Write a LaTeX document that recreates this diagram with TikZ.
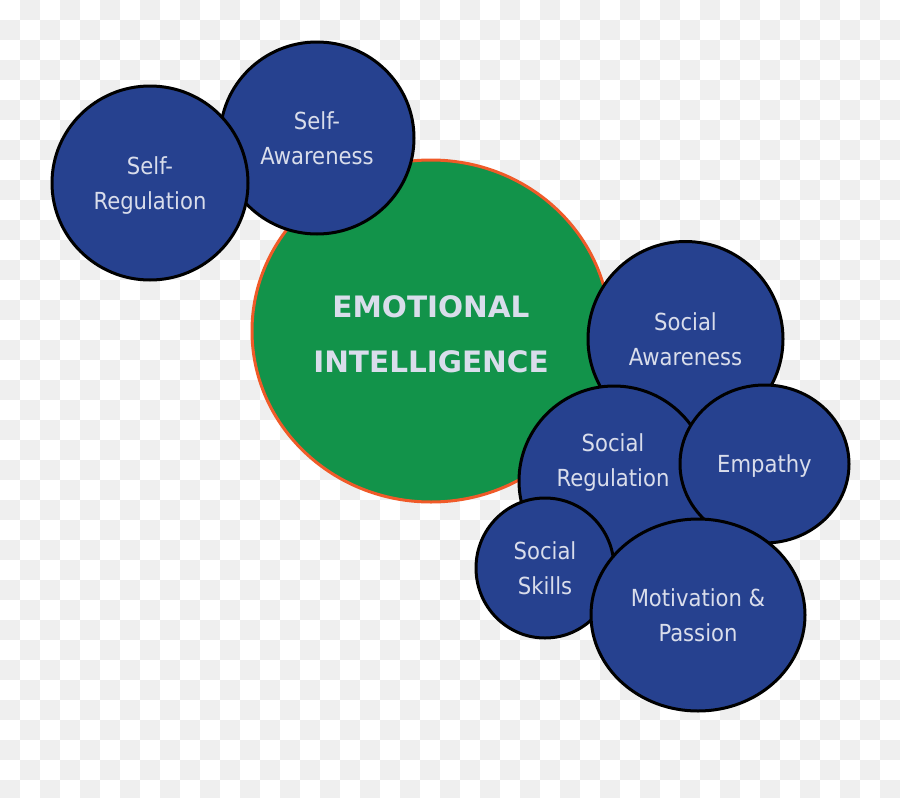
\documentclass[tikz,border=0pt]{standalone}
\usepackage{fontspec}
\usetikzlibrary{shapes.geometric}
\newfontfamily\bubblefont{DejaVu Sans Condensed}
\newfontfamily\corefont{DejaVu Sans}
\definecolor{eiblue}{HTML}{26418F}
\definecolor{eigreen}{HTML}{12934A}
\definecolor{eiorange}{HTML}{F05A28}
\definecolor{eitext}{HTML}{D9DDEB}
\definecolor{checker}{HTML}{EFEFEF}

\begin{document}
\begin{tikzpicture}[x=1pt,y=-1pt,
  bubble/.style={ellipse,draw=black,line width=3pt,fill=eiblue,text=eitext,inner sep=0pt,text depth=0pt,align=center,font=\bubblefont\fontsize{23.5}{35}\selectfont},
  core/.style={ellipse,draw=eiorange,line width=3pt,fill=eigreen,text=eitext,inner sep=0pt,text height=83pt,text depth=0pt,align=center,font=\corefont\bfseries\fontsize{29.5}{55}\selectfont}]
  \useasboundingbox (0,0) rectangle (900,798);
  % transparency grid
  \begin{scope}
    \clip (0,0) rectangle (900,798); \fill[white] (0,0) rectangle (900,798);
    \foreach \i in {0,...,44} \foreach \j in {0,...,39} {\ifodd\numexpr\i+\j\relax \fill[checker] (20*\i,20*\j) rectangle ++(20,20);\fi}
  \end{scope}
  \node[core, minimum width=358pt, minimum height=342pt] (ei) at (431,331) {EMOTIONAL\\INTELLIGENCE};
  \node[bubble, minimum width=194pt, minimum height=192pt] (selfaw) at (317,138) {Self-\\Awareness};
  \node[bubble, minimum width=196pt, minimum height=194pt] (selfreg) at (150,183) {Self-\\Regulation};
  \node[bubble, minimum width=195pt, minimum height=195pt] (socaw) at (685.5,339) {Social\\Awareness};
  \node[bubble, minimum width=190pt, minimum height=190pt] (socreg) at (614,481) {};
  \node[bubble, draw=none, fill=none] (socreglbl) at ([xshift=-1pt,yshift=21pt]socreg.center) {Social\\Regulation};
  \node[bubble, minimum width=169pt, minimum height=158pt] (empathy) at (764.5,464) {Empathy};
  \node[bubble, minimum width=138pt, minimum height=140pt] (skills) at (545,568) {Social\\Skills};
  \node[bubble, minimum width=214pt, minimum height=192pt] (motiv) at (698,615) {Motivation \&\\Passion};
\end{tikzpicture}
\end{document}
